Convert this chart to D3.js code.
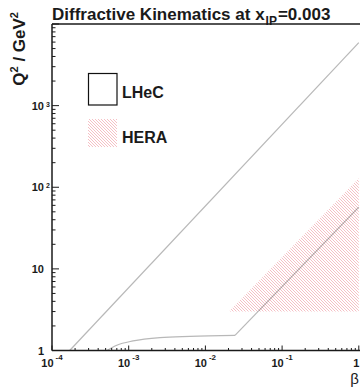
<!DOCTYPE html>
<html>
<head>
<meta charset="utf-8">
<script src="https://cdn.jsdelivr.net/npm/d3@7/dist/d3.min.js"></script>
<style>
  html, body { margin: 0; padding: 0; background: #fff; }
  svg { display: block; }
  text { font-family: "Liberation Sans", Arial, Helvetica, sans-serif; fill: #1a1a1a; }
</style>
</head>
<body>
<svg id="chart" width="360" height="387"></svg>
<script>
// ---- data ----
const title = "Diffractive Kinematics at x";
const titleSub = "IP";
const titleTail = "=0.003";
const xTitle = "β";
const legendLabels = ["LHeC", "HERA"];
const xTickExps = [-4, -3, -2, -1, 0];
const yTickExps = [0, 1, 2, 3];
// LHeC kinematic boundary, upper edge (beta, Q2)
const lhecUpper = [[1.7e-4, 1.0], [1.0, 5900]];
// LHeC kinematic boundary, lower edge: curved part (beta, Q2)
const lhecLowerCurve = [[5.2e-4, 1.0], [7.0e-4, 1.16], [1.14e-3, 1.31], [2.56e-3, 1.44],
                        [6.3e-3, 1.49], [0.0243, 1.53]];
// LHeC kinematic boundary, lower edge: straight part (beta, Q2)
const lhecLowerLine = [[0.0243, 1.53], [1.0, 57]];
// HERA region (beta, Q2)
const heraRegion = [[0.0203, 3.0], [1.0, 3.0], [1.0, 129]];

// ---- layout ----
const svg = d3.select("#chart");
const pLeft = 52, pTop = 24, pBottom = 350.5;
const decadeX = 76.7;
const xMax = 1.1;
const x = d3.scaleLog().domain([1e-4, xMax])
  .range([pLeft, pLeft + decadeX * Math.log10(xMax / 1e-4)]);
const y = d3.scaleLog().domain([1, 1e4]).range([pBottom, pTop]);
const pRight = x.range()[1];

const defs = svg.append("defs");
const pat = defs.append("pattern").attr("id", "hatch")
  .attr("patternUnits", "userSpaceOnUse").attr("width", 3).attr("height", 3);
pat.append("path").attr("d", "M-1,-1 L4,4 M-1,2 L1,4 M2,-1 L4,1")
  .attr("stroke", "#f2b0b6").attr("stroke-width", 0.8);
defs.append("clipPath").attr("id", "plotclip").append("rect")
  .attr("x", pLeft).attr("y", pTop).attr("width", pRight - pLeft).attr("height", pBottom - pTop);

const plot = svg.append("g").attr("clip-path", "url(#plotclip)");
const line = d3.line().x(d => x(d[0])).y(d => y(d[1]));
const curve = d3.line().curve(d3.curveMonotoneX).x(d => x(d[0])).y(d => y(d[1]));

// LHeC lines
[[lhecUpper, line], [lhecLowerCurve, curve], [lhecLowerLine, line]].forEach(([data, gen]) => {
  plot.append("path").datum(data).attr("d", gen)
    .attr("fill", "none").attr("stroke", "#b8b8b8").attr("stroke-width", 1.2);
});

// HERA hatched region
plot.append("path").datum(heraRegion).attr("d", d => line(d) + "Z")
  .attr("fill", "url(#hatch)").style("mix-blend-mode", "multiply");

// ---- axes ----
const axisColor = "#1a1a1a";
const ax = svg.append("g");
ax.append("line").attr("x1", pLeft).attr("x2", pLeft).attr("y1", pTop).attr("y2", pBottom)
  .attr("stroke", axisColor).attr("stroke-width", 1.5);
ax.append("line").attr("x1", pLeft).attr("x2", pRight).attr("y1", pBottom).attr("y2", pBottom)
  .attr("stroke", axisColor).attr("stroke-width", 1.5);
ax.append("line").attr("x1", pLeft).attr("x2", pRight).attr("y1", pTop).attr("y2", pTop)
  .attr("stroke", axisColor).attr("stroke-width", 1.5);

const isMajor = v => Math.abs(Math.log10(v) - Math.round(Math.log10(v))) < 1e-9;
// x ticks
x.ticks().forEach(v => {
  if (v > xMax) return;
  const len = isMajor(v) ? 5 : 2.5;
  ax.append("line").attr("x1", x(v)).attr("x2", x(v)).attr("y1", pBottom).attr("y2", pBottom - len)
    .attr("stroke", axisColor).attr("stroke-width", 1);
});
// y ticks
y.ticks().forEach(v => {
  const len = isMajor(v) ? 7 : 3.5;
  ax.append("line").attr("x1", pLeft).attr("x2", pLeft + len).attr("y1", y(v)).attr("y2", y(v))
    .attr("stroke", axisColor).attr("stroke-width", 1);
});

// x tick labels
xTickExps.forEach(e => {
  if (e === 0) {
    ax.append("text").attr("x", x(1) + 0.5).attr("y", pBottom + 16.5)
      .attr("text-anchor", "end").attr("font-weight", "bold").attr("font-size", 11).text("1");
    return;
  }
  const t = ax.append("text").attr("x", x(Math.pow(10, e))).attr("y", pBottom + 16.5)
    .attr("text-anchor", "middle").attr("font-weight", "bold").attr("font-size", 11);
  t.append("tspan").text("10");
  t.append("tspan").attr("dx", 2).attr("dy", -7).attr("font-size", 8).text(String(e));
});
// y tick labels
yTickExps.forEach(e => {
  const yy = y(Math.pow(10, e)) + 4;
  const base = e === 0 ? "1" : "10";
  ax.append("text").attr("x", 44).attr("y", yy).attr("text-anchor", "end")
    .attr("font-weight", "bold").attr("font-size", 11).text(base);
  if (e >= 2) {
    ax.append("text").attr("x", 46).attr("y", yy - 3).attr("font-weight", "bold")
      .attr("font-size", 7).text(String(e));
  }
});

// titles
const tt = svg.append("text").attr("x", 52).attr("y", 20)
  .attr("font-weight", "bold").attr("font-size", 17);
tt.append("tspan").text(title);
tt.append("tspan").attr("dx", 1).attr("dy", 5).attr("font-size", 12).text(titleSub);
tt.append("tspan").attr("dx", 1).attr("dy", -5).text(titleTail);

const yt = svg.append("text").attr("transform", "translate(25,12) rotate(-90)")
  .attr("text-anchor", "end").attr("font-weight", "bold").attr("font-size", 17);
yt.append("tspan").text("Q");
yt.append("tspan").attr("dy", -7).attr("font-size", 11).text("2");
yt.append("tspan").attr("dy", 7).text(" / GeV");
yt.append("tspan").attr("dy", -7).attr("font-size", 11).text("2");

svg.append("text").attr("x", 359).attr("y", 384).attr("text-anchor", "end")
  .attr("font-size", 15).text(xTitle);

// legend
svg.append("rect").attr("x", 88.5).attr("y", 73.5).attr("width", 28.5).attr("height", 31.5)
  .attr("fill", "#fff").attr("stroke", "#111").attr("stroke-width", 1.2);
svg.append("rect").attr("x", 88).attr("y", 119).attr("width", 29).attr("height", 28)
  .attr("fill", "url(#hatch)");
svg.append("text").attr("x", 122).attr("y", 97.5).attr("font-weight", "bold")
  .attr("font-size", 16).text(legendLabels[0]);
svg.append("text").attr("x", 122).attr("y", 142.5).attr("font-weight", "bold")
  .attr("font-size", 16).text(legendLabels[1]);
</script>
</body>
</html>
